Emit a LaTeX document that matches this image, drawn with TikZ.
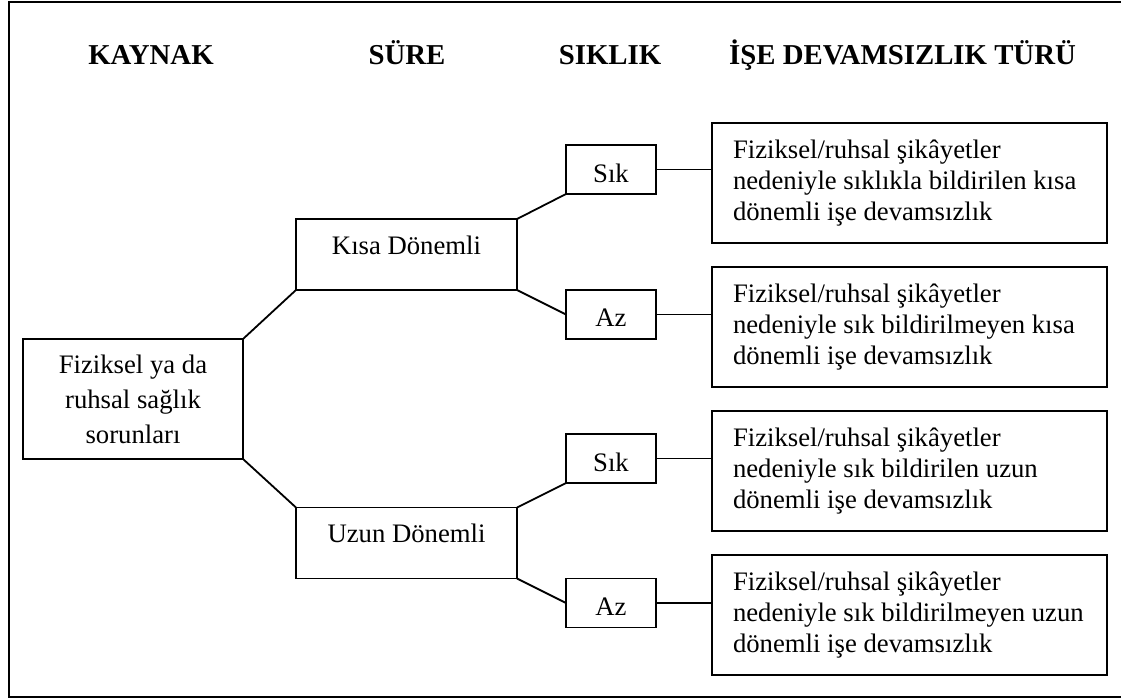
\documentclass[tikz,border=0pt]{standalone}
\usepackage{fontspec}
\setmainfont{Liberation Serif}
\begin{document}
\begin{tikzpicture}[x=1pt,y=-1pt,
  every node/.style={inner sep=0pt, outer sep=0pt},
  body/.style={font=\fontsize{26.7}{31}\selectfont},
  head/.style={font=\bfseries\fontsize{28.8}{34}\selectfont, anchor=base},
  box/.style={draw, line width=1.8pt},
  smallbox/.style={box, minimum width=90, minimum height=49},
  midbox/.style={box, minimum width=221, minimum height=71},
  bigbox/.style={box, minimum width=395, minimum height=120},
  bigtext/.style={body, align=left, anchor=west},
  lbl/.style={body, anchor=base},
  link/.style={line width=1.8pt}]
\useasboundingbox (0,0) rectangle (1121,699);
\draw[line width=1.5pt] (9,2) rectangle (1123,697);

% column headings
\node[head] (hsrc)  at (151,64)   {KAYNAK};
\node[head] (hdur)  at (407,64)   {SÜRE};
\node[head] (hfreq) at (610,64)   {SIKLIK};
\node[head] (htype) at (902.5,64) {İŞE DEVAMSIZLIK TÜRÜ};

% source
\node[box, minimum width=220, minimum height=120, align=center,
      font=\fontsize{26.7}{35}\selectfont] (src) at (133,399)
  {Fiziksel ya da\\ruhsal sağlık\\sorunları};

% duration
\node[midbox] (kisa) at (406.5,254.5) {};
\node[lbl] (kisaT) at (406.5,254) {Kısa Dönemli};
\node[midbox] (uzun) at (406.5,543) {};
\node[lbl] (uzunT) at (406.5,542) {Uzun Dönemli};

% frequency
\node[smallbox] (sik1) at (611,169.5) {};
\node[lbl] (sik1T) at (611,182) {Sık};
\node[smallbox] (az1) at (611,314.5) {};
\node[lbl] (az1T) at (611,326) {Az};
\node[smallbox] (sik2) at (611,458.5) {};
\node[lbl] (sik2T) at (611,471) {Sık};
\node[smallbox] (az2) at (611,603) {};
\node[lbl] (az2T) at (611,615) {Az};

% absence types
\node[bigbox] (t1) at (909.5,183) {};
\node[bigtext] (t1T) at ([xshift=21pt]t1.west)
  {Fiziksel/ruhsal şikâyetler\\nedeniyle sıklıkla bildirilen kısa\\dönemli işe devamsızlık};
\node[bigbox] (t2) at (909.5,327) {};
\node[bigtext] (t2T) at ([xshift=21pt]t2.west)
  {Fiziksel/ruhsal şikâyetler\\nedeniyle sık bildirilmeyen kısa\\dönemli işe devamsızlık};
\node[bigbox] (t3) at (909.5,471) {};
\node[bigtext] (t3T) at ([xshift=21pt]t3.west)
  {Fiziksel/ruhsal şikâyetler\\nedeniyle sık bildirilen uzun\\dönemli işe devamsızlık};
\node[bigbox] (t4) at (909.5,615) {};
\node[bigtext] (t4T) at ([xshift=21pt]t4.west)
  {Fiziksel/ruhsal şikâyetler\\nedeniyle sık bildirilmeyen uzun\\dönemli işe devamsızlık};

% connectors
\draw[link] (src.north east) -- (kisa.south west);
\draw[link] (src.south east) -- (uzun.north west);
\draw[link] (kisa.north east) -- (sik1.south west);
\draw[link] (kisa.south east) -- (az1.west);
\draw[link] (uzun.north east) -- (sik2.south west);
\draw[link] (uzun.south east) -- (az2.west);
\draw[link] (sik1.east) -- (t1.west |- sik1.east);
\draw[link] (az1.east) -- (t2.west |- az1.east);
\draw[link] (sik2.east) -- (t3.west |- sik2.east);
\draw[link] (az2.east) -- (t4.west |- az2.east);
\end{tikzpicture}
\end{document}
